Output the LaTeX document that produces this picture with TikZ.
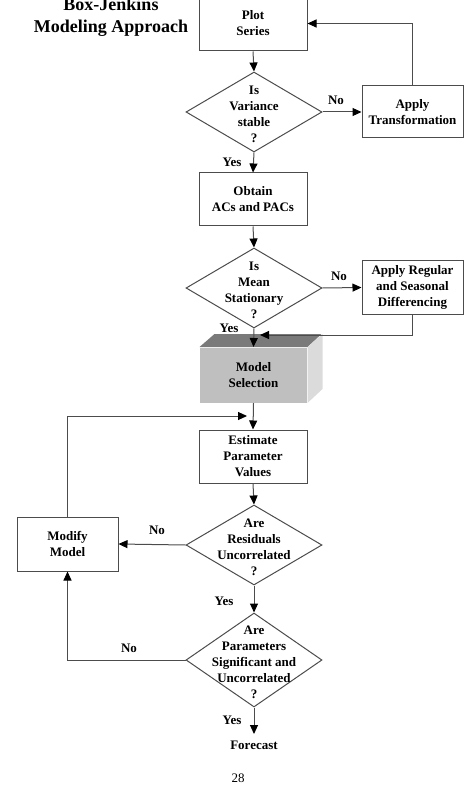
\documentclass[tikz,border=0pt]{standalone}
\usepackage{fontspec}
\setmainfont{Liberation Serif}
\usetikzlibrary{arrows.meta,shapes.geometric}

\begin{document}
\begin{tikzpicture}[x=1pt,y=1pt,line width=1pt,
  box/.style={draw=black!70,minimum width=108pt,minimum height=53pt,inner sep=0pt,align=center,font=\fontsize{13}{16}\selectfont\bfseries},
  dec/.style={draw=black!70,diamond,minimum width=136pt,minimum height=80pt,inner sep=0pt},
  dectext/.style={align=center,inner sep=0pt,yshift=-2pt,font=\fontsize{13}{16}\selectfont\bfseries},
  lbl/.style={inner sep=0pt,font=\fontsize{13}{16}\selectfont\bfseries},
  conn/.style={draw=black!70,-{Triangle[length=9pt,width=8pt,color=black]}}]
\useasboundingbox (0,0) rectangle (474,-799);
% title
\node [align=center,font=\fontsize{18}{22}\selectfont\bfseries] (title) at (111,-17) {Box-Jenkins\\Modeling Approach};
% main column
\node [box,minimum height=55pt] (plot) at (253,-23.5) {Plot\\Series};
\node [dec,label={[dectext]center:{Is\\Variance\\stable\\?}}] (d1) at (254,-112) {};
\node [box,minimum width=101pt,minimum height=52pt] (trans) at (412.5,-112) {Apply\\Transformation};
\node [box] (acs) at (253,-199.5) {Obtain\\ACs and PACs};
\node [dec,label={[dectext]center:{Is\\Mean\\Stationary\\?}}] (d2) at (254,-288) {};
\node [box,minimum width=101pt] (diff) at (412.5,-287.5) {Apply Regular\\and Seasonal\\Differencing};
\node [box,draw=none,fill=black!25,minimum width=107pt,minimum height=55pt] (model) at (253.5,-375) {Model\\Selection};
\fill [black!52] (model.north west) -- ++(15,13) -- ++(107,0) -- (model.north east) -- cycle;
\fill [black!14] (model.north east) -- ++(15,13) -- ++(0,-55) -- (model.south east) -- cycle;
\node [box] (est) at (253,-456.5) {Estimate\\Parameter\\Values};
\node [dec,label={[dectext]center:{Are\\Residuals\\Uncorrelated\\?}}] (d3) at (254,-545) {};
\node [box,minimum width=101pt,minimum height=54pt] (modify) at (67.5,-544) {Modify\\Model};
\node [dec,minimum height=94pt,label={[dectext]center:{Are\\Parameters\\Significant and\\Uncorrelated\\?}}] (d4) at (254,-660) {};
\node [lbl,anchor=north,inner ysep=6pt] (fc) at (254,-734) {Forecast};
\node [inner sep=0pt,font=\fontsize{13}{16}\selectfont] (page) at (238,-778) {28};
% free ends
\coordinate (mjoin) at (260,-335);
\coordinate (ejoin) at (247,-416);
% connectors
\draw [conn] (plot.south) -- (d1.north);
\draw [conn] (d1.east) -- (trans.west);
\draw [conn] (trans.north) |- (plot.east);
\draw [conn] (d1.south) -- (acs.north);
\draw [conn] (acs.south) -- (d2.north);
\draw [conn] (d2.east) -- (diff.west);
\draw [conn] (diff.south) |- (mjoin);
\draw [conn] (d2.south) -- (model.north);
\draw [conn] (model.south) -- (est.north);
\draw [conn] (modify.north) |- (ejoin);
\draw [conn] (est.south) -- (d3.north);
\draw [conn] (d3.west) -- (modify.east);
\draw [conn] (d3.south) -- (d4.north);
\draw [conn] (d4.west) -| (modify.south);
\draw [conn] (d4.south) -- (fc.north);
% yes / no
\node [lbl] (no1) at (336,-100) {No};
\node [lbl] (yes1) at (232,-162) {Yes};
\node [lbl] (no2) at (339,-276) {No};
\node [lbl] (yes2) at (229,-328) {Yes};
\node [lbl] (no3) at (157,-530) {No};
\node [lbl] (yes3) at (224,-601) {Yes};
\node [lbl] (no4) at (129,-648) {No};
\node [lbl] (yes4) at (232,-720) {Yes};
\end{tikzpicture}
\end{document}
